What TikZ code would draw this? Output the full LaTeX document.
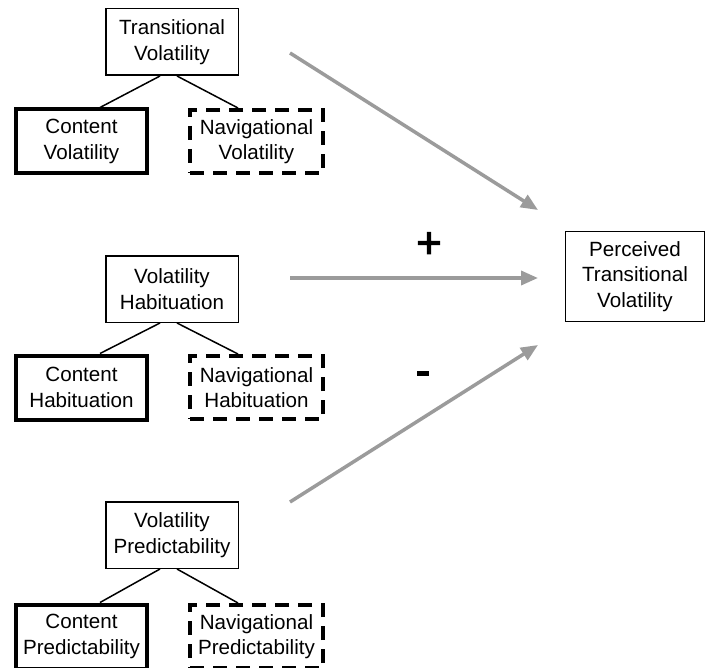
\documentclass[tikz,border=0pt]{standalone}
\usepackage{fontspec}
\setmainfont{Liberation Sans}
\newfontfamily\signfont[FakeBold=2.5]{Liberation Sans}
\usetikzlibrary{arrows.meta}
\definecolor{arrowgray}{RGB}{155,155,155}
\tikzset{
  box/.style={draw=black, line width=1.5pt, align=center, inner sep=0pt,
    font=\fontsize{20.6}{25.5}\selectfont},
  parentbox/.style={box, minimum width=132.5pt, minimum height=66.5pt},
  contentbox/.style={box, line width=4pt, minimum width=131pt, minimum height=64pt},
  navbox/.style={box, line width=4pt, dash pattern=on 14pt off 9pt, minimum width=133pt, minimum height=63pt},
  branch/.style={draw=black, line width=1.5pt},
  effect/.style={draw=arrowgray, line width=3.5pt, -{Triangle[length=17pt,width=14pt]}},
  sign/.style={font=\fontsize{44}{44}\signfont\selectfont, inner sep=0pt}
}
\begin{document}
\begin{tikzpicture}[x=1pt,y=-1pt]
\clip (0,0) rectangle (706,668);
\fill[white] (0,0) rectangle (706,668);

% top group
\node[parentbox] (tv) at (172,42) {Transitional\\Volatility};
\node[contentbox] (cv) at (81.5,141.5) {Content\\Volatility};
\node[navbox] (nv) at (256.5,141.5) {Navigational\\Volatility};
\draw[branch] ([xshift=-12pt]tv.south) -- ([xshift=18.5pt]cv.north);
\draw[branch] ([xshift=5pt]tv.south) -- ([xshift=-18.5pt]nv.north);

% middle group
\node[parentbox] (vh) at (172,289) {Volatility\\Habituation};
\node[contentbox] (ch) at (81.5,387.5) {Content\\Habituation};
\node[navbox] (nh) at (256.5,387.5) {Navigational\\Habituation};
\draw[branch] ([xshift=-12pt]vh.south) -- ([xshift=18.5pt]ch.north);
\draw[branch] ([xshift=5pt]vh.south) -- ([xshift=-18.5pt]nh.north);

% bottom group
\node[parentbox] (vp) at (172,535) {Volatility\\Predictability};
\node[contentbox] (cp) at (81.5,636.5) {Content\\Predictability};
\node[navbox] (np) at (256.5,636.5) {Navigational\\Predictability};
\draw[branch] ([xshift=-12pt]vp.south) -- ([xshift=18.5pt]cp.north);
\draw[branch] ([xshift=5pt]vp.south) -- ([xshift=-18.5pt]np.north);

% outcome
\node[box, minimum width=139pt, minimum height=90pt] (ptv) at (635,276.5) {Perceived\\Transitional\\Volatility};

% effects
\coordinate (s1) at (290,53);
\coordinate (e1) at (538,210);
\coordinate (s2) at (290,278);
\coordinate (e2) at (538,278);
\coordinate (s3) at (290,502);
\coordinate (e3) at (538,345);
\draw[effect] (s1) -- (e1);
\draw[effect] (s2) -- (e2);
\draw[effect] (s3) -- (e3);

\node[sign] (plus) at (429,245) {+};
\node[sign] (minus) at (423,378.5) {-};
\end{tikzpicture}
\end{document}
